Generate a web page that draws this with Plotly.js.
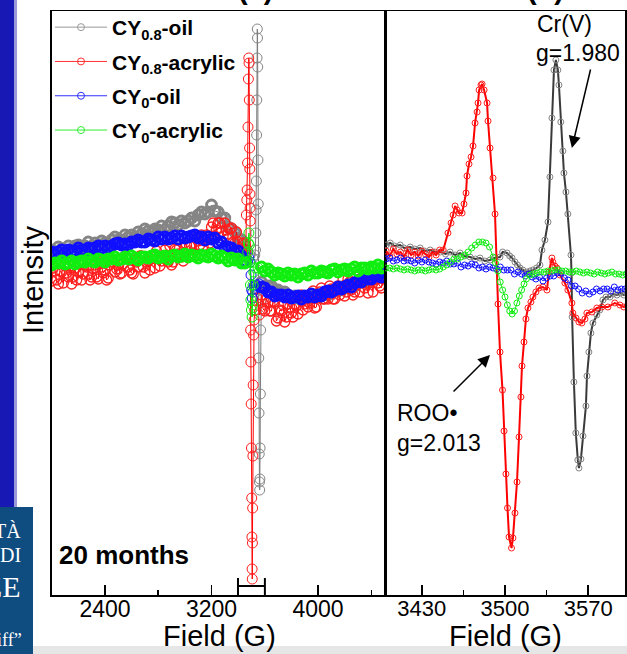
<!DOCTYPE html>
<html><head><meta charset="utf-8">
<script src="https://cdn.plot.ly/plotly-3.0.1.min.js"></script>
<style>html,body{margin:0;padding:0;background:#fff}#chart{width:627px;height:654px}</style>
</head><body><div id="chart"></div>
<script>
// ---------- Panel (a): wide scan ----------
const fieldWidePre = [2000,2025,2050,2075,2100,2125,2150,2175,2200,2225,2250,2275,2300,2325,2350,2375,2400,2425,2450,2475,2500,2525,2550,2575,2600,2625,2650,2675,2700,2725,2750,2775,2800,2825,2850,2875,2900,2925,2950,2975,3000,3025,3050,3075,3100,3125,3150,3175,3200,3225,3250,3275,3300,3325,3350,3375,3400,3425,3450];
const fieldWidePost = [3575,3600,3625,3650,3675,3700,3725,3750,3775,3800,3825,3850,3875,3900,3925,3950,3975,4000,4025,4050,4075,4100,4125,4150,4175,4200,4225,4250,4275,4300,4325,4350,4375,4400,4425,4450,4475,4500];
const fieldWidePreMid = [2012.5,2037.5,2062.5,2087.5,2112.5,2137.5,2162.5,2187.5,2212.5,2237.5,2262.5,2287.5,2312.5,2337.5,2362.5,2387.5,2412.5,2437.5,2462.5,2487.5,2512.5,2537.5,2562.5,2587.5,2612.5,2637.5,2662.5,2687.5,2712.5,2737.5,2762.5,2787.5,2812.5,2837.5,2862.5,2887.5,2912.5,2937.5,2962.5,2987.5,3012.5,3037.5,3062.5,3087.5,3112.5,3137.5,3162.5,3187.5,3212.5,3237.5,3262.5,3287.5,3312.5,3337.5,3362.5,3387.5,3412.5,3437.5];
const fieldWidePostMid = [3587.5,3612.5,3637.5,3662.5,3687.5,3712.5,3737.5,3762.5,3787.5,3812.5,3837.5,3862.5,3887.5,3912.5,3937.5,3962.5,3987.5,4012.5,4037.5,4062.5,4087.5,4112.5,4137.5,4162.5,4187.5,4212.5,4237.5,4262.5,4287.5,4312.5,4337.5,4362.5,4387.5,4412.5,4437.5,4462.5,4487.5];

const grayPre = [20,18,23,21,20,24,19,24,25,22,24,28,23,27,25,29,27,25,30,33,30,30,35,33,35,32,38,36,41,39,38,41,40,44,40,44,48,47,45,49,47,49,52,49,55,58,56,58,65,59,58,52,52,43,41,38,32,30,20];
const redPre = [-11,-1,-14,-2,4,-7,-14,2,-2,-10,7,-4,-7,5,-9,3,0,-8,8,-2,5,-3,14,3,-3,10,3,14,-3,9,14,2,13,9,20,8,5,21,16,13,27,14,24,15,29,35,29,34,43,34,47,38,47,36,42,27,28,19,26];
const redPreMid = [2,-10,-1,-13,-3,4,-7,-10,7,-4,3,-10,1,-7,8,-3,-10,5,8,1,-4,6,12,0,-4,8,14,3,8,0,14,19,4,12,10,24,8,20,15,9,25,24,17,32,25,24,35,27,47,40,47,34,40,41,28,38,19,27];
const bluePre = [18,16,18,20,17,20,19,19,22,20,19,22,21,22,24,22,24,22,24,26,27,25,26,25,28,28,30,28,28,31,30,29,33,31,33,31,32,34,31,34,32,33,34,35,32,33,30,33,31,32,27,28,23,23,22,18,19,14,9];
const greenPre = [5,7,7,9,6,7,9,6,8,9,8,11,9,8,11,10,8,11,11,13,10,11,13,11,14,12,10,13,13,12,14,15,12,13,14,11,14,15,13,14,16,13,15,14,12,15,14,13,16,14,12,14,12,9,12,10,11,7,7];

const grayPost = [-12,-16,-16,-16,-21,-20,-23,-22,-25,-28,-26,-28,-30,-27,-28,-28,-25,-27,-24,-24,-25,-21,-21,-21,-17,-18,-18,-14,-16,-13,-11,-12,-8,-9,-9,-6,-6,-7];
const redPost = [-25,-41,-33,-41,-32,-48,-41,-52,-34,-43,-34,-44,-25,-34,-37,-24,-38,-25,-18,-29,-29,-19,-29,-16,-19,-26,-9,-20,-22,-12,-8,-18,-23,-11,-7,-13,-18,-3];
const redPostMid = [-39,-29,-41,-31,-51,-40,-35,-47,-37,-47,-36,-26,-40,-29,-33,-21,-37,-22,-29,-24,-16,-29,-19,-25,-10,-22,-12,-25,-15,-22,-11,-15,-5,-22,-9,-16,-5];
const bluePost = [-17,-18,-22,-22,-26,-25,-25,-27,-25,-28,-27,-26,-29,-26,-27,-24,-27,-25,-26,-22,-21,-22,-20,-17,-19,-17,-15,-17,-13,-11,-12,-8,-9,-9,-6,-6,-7,-3];
const greenPost = [3,-1,1,-2,-5,-3,-4,-6,-3,-5,-4,-7,-4,-3,-5,-1,-3,-3,-1,-2,-3,0,1,-2,0,1,-1,1,3,-1,2,2,1,3,2,5,2,3];

const graySpikeField = [3470,3490,3510,3525,3530,3533,3535,3537,3539,3540,3542,3544,3545.5,3547,3549,3551,3553,3555,3557,3558.5,3560,3562,3563.5,3565,3567,3569,3572];
const graySpike = [20,15,12,15,20,37,60,89,135,170,212,241,232,203,110,66,-20,-88,-143,-184,-212,-220,-209,-178,-124,-60,-30];
const redSpikeField = [3458,3462,3465,3468,3471,3474,3477,3480,3482,3484,3486,3488,3489,3490,3491,3494,3496,3498,3500,3502,3503.5,3505,3506,3507.5,3509,3511,3513,3516,3520,3525,3530,3545,3560];
const redSpike = [24,55,70,80,107,143,191,212,207,170,122,101,76,62,49,-60,-92,-134,-178,-228,-267,-299,-309,-273,-238,-186,-115,-65,-50,-40,-40,-28,-45];
const blueSpikeField = [3470,3480,3490,3497,3502,3506,3510,3520,3540,3560];
const blueSpike = [8,12,8,-5,-20,-28,-22,-16,-15,-14];
const greenSpikeField = [3465,3472,3477,3481,3484,3488,3492,3496,3500,3505,3508,3512,3518,3530,3550];
const greenSpike = [8,18,27,37,25,8,-15,-30,-40,-47,-35,-15,-2,2,2];

// ---------- Panel (b): narrow scan ----------
const grayNarrowField = [3400,3403.4,3407,3411.8,3415,3420.2,3424,3428.6,3432,3437,3441,3445.6,3450,3453.8,3458,3462.2,3466,3470.6,3475,3479,3483,3487.4,3491,3495.8,3498,3501.7,3504,3505.9,3508.4,3510.5,3512.6,3515,3518.5,3521,3523.5,3526.5,3529.4,3531.1,3533.6,3536.2,3537.8,3539.5,3541.2,3542.8,3544.5,3545.4,3547,3548.7,3549.6,3551.3,3552.9,3555.5,3556,3556.5,3558,3559.6,3561.3,3562.2,3563.9,3565.6,3568.1,3569,3570.6,3572.3,3574,3577.3,3579.8,3582.4,3585,3588.3,3591,3594.2,3597,3600,3603];
const grayNarrow = [25,27,24,25,22,23,21,22,19,20,18,18,16,18,15,17,14,13,11,12,9,10,12,13,18,17,14,12,8,5,2,0,-2,-1,0,2,5,20,30,48,93,152,200,210,200,185,148,119,97,78,56,15,-3,-47,-112,-163,-190,-198,-189,-166,-136,-106,-82,-63,-53,-45,-40,-30,-27,-27,-24,-25,-23,-25,-24];
const redNarrowField = [3400,3403,3406,3409,3412,3415,3418,3421,3424,3427,3430,3433,3436,3439,3442,3445,3448,3452,3454.6,3456.3,3458,3459.7,3461.3,3463.9,3465.5,3467.2,3468,3469.7,3471.4,3473.1,3474.8,3476.5,3477.3,3478.2,3479.8,3480.7,3482.4,3484.9,3485.7,3487.4,3489.9,3491.6,3494.1,3495.8,3497.9,3499.2,3500.8,3502.1,3503.4,3505.5,3506.7,3508.4,3510.1,3511.8,3513.4,3514.3,3516,3517.6,3519.3,3521.8,3523.5,3526,3528.6,3531.9,3535.3,3537,3539.5,3540.3,3542,3543.7,3546.2,3550.4,3552.9,3556.3,3557.1,3559.7,3562.2,3564.7,3567.3,3568.9,3573.1,3577.3,3581.5,3586.6,3592.4,3596.7,3600,3603];
const redNarrow = [19,14,21,16,18,13,20,15,18,14,19,16,13,18,15,20,20,37,47,55,64,60,57,57,66,77,94,106,113,124,147,158,167,180,185,186,180,167,149,122,92,56,-34,-82,-120,-161,-204,-238,-267,-278,-268,-243,-212,-167,-127,-96,-72,-49,-38,-32,-27,-22,-18,-17,-20,-2,12,8,4,2,-5,-13,-20,-33,-43,-48,-52,-53,-49,-43,-42,-38,-37,-37,-33,-35,-37,-36];
const blueNarrowField = [3400,3403,3406,3409,3412,3415,3418,3421,3424,3427,3430,3433,3436,3439,3442,3445,3448,3451,3454,3457,3460,3463,3466,3469,3472,3475,3478,3481,3484,3487,3490,3493,3496,3499,3502,3505,3508,3511,3514,3517,3520,3523,3526,3529,3532,3535,3538,3541,3544,3547,3550,3553,3556,3559,3562,3565,3568,3571,3574,3577,3580,3583,3586,3589,3592,3595,3598,3601];
const blueNarrow = [11,12,9,10,12,9,10,9,7,10,8,10,8,7,6,8,7,9,6,6,7,3,5,4,6,5,2,3,1,3,2,1,3,0,0,0,-4,-2,-4,-6,-4,-7,-9,-7,-11,-8,-6,-6,-3,-3,-8,-10,-16,-16,-19,-23,-21,-24,-22,-19,-21,-19,-19,-21,-17,-20,-19,-19];
const greenNarrowField = [3400,3403,3406,3409,3412,3415,3418,3421,3424,3427,3430,3433,3436,3439,3442,3445,3448,3451,3454,3457,3460,3463,3466,3469,3472,3475,3478,3481,3484,3487,3490,3492,3494,3496,3498,3500,3502,3504,3506,3508,3510,3512,3514,3516,3518,3521,3524,3527,3530,3533,3536,3539,3542,3545,3548,3551,3554,3557,3560,3563,3566,3569,3572,3575,3578,3581,3584,3587,3590,3593,3596,3599,3602];
const greenNarrow = [2,2,1,2,1,0,1,0,-1,0,0,-1,0,1,0,1,3,5,8,11,11,13,15,18,22,25,28,28,27,23,13,7,-1,-12,-20,-27,-35,-41,-44,-41,-33,-26,-20,-14,-9,-5,-4,-3,-2,-2,-1,-1,0,0,-1,-1,-2,-2,-1,-2,-3,-2,-3,-4,-2,-3,-4,-3,-2,-4,-4,-5,-4];

// ---------- axes / labels ----------
const seriesNames = ['CY<sub>0.8</sub>-oil','CY<sub>0.8</sub>-acrylic','CY<sub>0</sub>-oil','CY<sub>0</sub>-acrylic'];
const wideRange = [2000, 4503];
const narrowRange = [3399, 3601];
const intensityRange = [-325, 259];
const wideTicks = [2400, 3200, 4000];
const wideMinorTicks = [2800, 4400];
const narrowTicks = [3430, 3500, 3570];
const narrowMinorTicks = [3465, 3535];

// ---------- build ----------
const W = 627, H = 654;
const px = x => x / W, py = y => 1 - y / H;
const ARIAL = 'Arial, "Liberation Sans", sans-serif';

const bandStroke = [2.8, 1.3, 2.8, 2.8];   // stroke of the dense baseline circles
const spikeStroke = 1;                     // stroke of the sparse spike circles

function merged(xa, ya, xb, yb) {
  const pts = xa.map((x, i) => [x, ya[i]]).concat(xb.map((x, i) => [x, yb[i]]));
  pts.sort((p, q) => p[0] - q[0]);
  return {x: pts.map(p => p[0]), y: pts.map(p => p[1])};
}
function wide(pre, spikeX, spikeY, post, k) {
  const s = bandStroke[k];
  return {
    x: pre.x.concat(spikeX, post.x),
    y: pre.y.concat(spikeY, post.y),
    w: pre.x.map(() => s).concat(spikeX.map(() => spikeStroke), post.x.map(() => s))
  };
}
const one = (x, y) => ({x: x, y: y});
const wideSets = [
  wide(one(fieldWidePre, grayPre), graySpikeField, graySpike, one(fieldWidePost, grayPost), 0),
  wide(merged(fieldWidePre, redPre, fieldWidePreMid, redPreMid), redSpikeField, redSpike,
       merged(fieldWidePost, redPost, fieldWidePostMid, redPostMid), 1),
  wide(one(fieldWidePre, bluePre), blueSpikeField, blueSpike, one(fieldWidePost, bluePost), 2),
  wide(one(fieldWidePre, greenPre), greenSpikeField, greenSpike, one(fieldWidePost, greenPost), 3)
];
const narrowSets = [
  {x: grayNarrowField, y: grayNarrow},
  {x: redNarrowField, y: redNarrow},
  {x: blueNarrowField, y: blueNarrow},
  {x: greenNarrowField, y: greenNarrow}
];
const lineCols = ['#7a7a7a', '#ff0000', '#0000ff', '#00ee00'];
const markCols = ['#858585', '#ff2020', '#1010ff', '#10ee10'];
const legendCols = ['#999999', '#ff3030', '#3030ff', '#30ee30'];
const narrowLineCols = ['#3a3a3a', '#ff0000', '#3030ff', '#20e020'];
const narrowLineW = [2, 2, 1, 1];

const traces = [];
wideSets.forEach((s, i) => traces.push({
  x: s.x, y: s.y, xaxis: 'x', yaxis: 'y', type: 'scatter', mode: 'lines+markers',
  name: seriesNames[i], showlegend: false,
  line: {color: lineCols[i], width: 1},
  marker: {symbol: 'circle-open', size: 10, color: markCols[i], line: {width: s.w}}
}));
narrowSets.forEach((s, i) => traces.push({
  x: s.x, y: s.y, xaxis: 'x2', yaxis: 'y2', type: 'scatter', mode: 'lines+markers',
  name: seriesNames[i], showlegend: false,
  line: {color: narrowLineCols[i], width: narrowLineW[i]},
  marker: {symbol: 'circle-open', size: 6, color: markCols[i], line: {width: 1}}
}));
// legend entries (no data of their own)
seriesNames.forEach((n, i) => traces.push({
  x: [null], y: [null], xaxis: 'x', yaxis: 'y', type: 'scatter', mode: 'lines+markers',
  name: n, legendgroup: 'g' + i, showlegend: true,
  line: {color: legendCols[i], width: 1},
  marker: {symbol: 'circle-open', size: 7, color: legendCols[i], line: {width: 1}}
}));

const axisCommon = {
  showline: true, mirror: true, linecolor: '#000', linewidth: 1.5,
  showgrid: false, zeroline: false, ticks: 'inside', ticklen: 10, tickwidth: 1.5, tickcolor: '#000',
  tickmode: 'array', automargin: false, ticklabelstandoff: -7
};
const yCommon = {
  range: intensityRange, domain: [py(595), py(11)], showline: true, mirror: true,
  linecolor: '#000', linewidth: 1.5, showgrid: false, zeroline: false,
  showticklabels: false, ticks: '', automargin: false
};

const layout = {
  width: W, height: H, margin: {l: 0, r: 0, t: 0, b: 0},
  paper_bgcolor: '#fff', plot_bgcolor: '#fff',
  font: {family: ARIAL, color: '#000'},
  showlegend: true,
  legend: {
    x: px(50), y: py(7), xanchor: 'left', yanchor: 'top', bgcolor: 'rgba(0,0,0,0)',
    font: {family: ARIAL, size: 21, weight: 'bold', color: '#000'},
    tracegroupgap: 4, itemwidth: 52
  },
  xaxis: Object.assign({}, axisCommon, {
    domain: [px(51.7), px(385)], range: wideRange, tickvals: wideTicks,
    tickfont: {family: ARIAL, size: 23, color: '#000'},
    minor: {tickmode: 'array', tickvals: wideMinorTicks, ticks: 'inside', ticklen: 5, tickwidth: 1.5, tickcolor: '#000'},
    anchor: 'y'
  }),
  xaxis2: Object.assign({}, axisCommon, {
    domain: [px(385), px(625)], range: narrowRange, tickvals: narrowTicks,
    tickfont: {family: ARIAL, size: 22, color: '#000'},
    minor: {tickmode: 'array', tickvals: narrowMinorTicks, ticks: 'inside', ticklen: 5, tickwidth: 1.5, tickcolor: '#000'},
    anchor: 'y2'
  }),
  yaxis: Object.assign({}, yCommon, {anchor: 'x'}),
  yaxis2: Object.assign({}, yCommon, {anchor: 'x2'}),
  shapes: [
    // slide decorations
    {type: 'rect', xref: 'paper', yref: 'paper', x0: 0, x1: px(14), y0: py(507), y1: 1, fillcolor: '#1818b4', line: {width: 0}, layer: 'below'},
    {type: 'rect', xref: 'paper', yref: 'paper', x0: px(14), x1: px(17), y0: py(507), y1: 1, fillcolor: '#9a9ad8', line: {width: 0}, layer: 'below'},
    {type: 'rect', xref: 'paper', yref: 'paper', x0: 0, x1: px(33), y0: 0, y1: py(507), fillcolor: '#0f4c80', line: {width: 0}, layer: 'below'},
    {type: 'rect', xref: 'paper', yref: 'paper', x0: px(33), x1: 1, y0: 0, y1: py(646), fillcolor: '#e6e6e6', line: {width: 0}, layer: 'below'},
    // zoom-range bracket
    {type: 'line', xref: 'x', yref: 'y', x0: narrowRange[0], x1: narrowRange[1], y0: -316, y1: -316, line: {color: '#000', width: 2}},
    {type: 'line', xref: 'x', yref: 'y', x0: narrowRange[0], x1: narrowRange[0], y0: -308, y1: -325, line: {color: '#000', width: 2}},
    {type: 'line', xref: 'x', yref: 'y', x0: narrowRange[1], x1: narrowRange[1], y0: -308, y1: -325, line: {color: '#000', width: 2}}
  ],
  annotations: [
    {xref: 'paper', yref: 'paper', x: px(33), y: py(280), text: 'Intensity', textangle: -90, showarrow: false, font: {size: 29, family: ARIAL}, xanchor: 'center', yanchor: 'middle'},
    {xref: 'paper', yref: 'paper', x: px(219), y: py(636), text: 'Field (G)', showarrow: false, font: {size: 29, family: ARIAL}, xanchor: 'center', yanchor: 'middle', borderpad: 0},
    {xref: 'paper', yref: 'paper', x: px(505), y: py(636), text: 'Field (G)', showarrow: false, font: {size: 29, family: ARIAL}, xanchor: 'center', yanchor: 'middle', borderpad: 0},
    {xref: 'paper', yref: 'paper', x: px(57), y: py(555), text: '20 months', showarrow: false, font: {size: 26, family: ARIAL, weight: 'bold'}, xanchor: 'left', yanchor: 'middle'},
    {xref: 'paper', yref: 'paper', x: px(255), y: 1, yshift: -7, text: '(a)', showarrow: false, font: {size: 29, family: ARIAL, weight: 'bold'}, xanchor: 'center', yanchor: 'bottom'},
    {xref: 'paper', yref: 'paper', x: px(545), y: 1, yshift: -7, text: '(b)', showarrow: false, font: {size: 29, family: ARIAL, weight: 'bold'}, xanchor: 'center', yanchor: 'bottom'},
    {xref: 'paper', yref: 'paper', x: px(564), y: py(24), text: 'Cr(V)', showarrow: false, font: {size: 23, family: ARIAL}, xanchor: 'center', yanchor: 'middle'},
    {xref: 'paper', yref: 'paper', x: px(578), y: py(53), text: 'g=1.980', showarrow: false, font: {size: 23, family: ARIAL}, xanchor: 'center', yanchor: 'middle'},
    {xref: 'paper', yref: 'paper', x: px(395), y: py(413), text: 'ROO•', showarrow: false, font: {size: 23, family: ARIAL}, xanchor: 'left', yanchor: 'middle'},
    {xref: 'paper', yref: 'paper', x: px(395), y: py(443), text: 'g=2.013', showarrow: false, font: {size: 23, family: ARIAL}, xanchor: 'left', yanchor: 'middle'},
    {xref: 'x2', yref: 'y2', x: 3556.3, y: 122, ax: 19, ay: -80, text: '', showarrow: true, arrowhead: 2, arrowsize: 1.6, arrowwidth: 1.5, arrowcolor: '#000'},
    {xref: 'x2', yref: 'y2', x: 3487.4, y: -85, ax: -38, ay: 38, text: '', showarrow: true, arrowhead: 2, arrowsize: 1.6, arrowwidth: 1.5, arrowcolor: '#000'},
    // slide logo fragments
    {xref: 'paper', yref: 'paper', x: px(23), y: py(531), text: 'TÀ', showarrow: false, font: {size: 20, family: '"Liberation Serif", serif', color: '#fff'}, xanchor: 'right', yanchor: 'middle'},
    {xref: 'paper', yref: 'paper', x: px(23), y: py(555), text: 'DI', showarrow: false, font: {size: 20, family: '"Liberation Serif", serif', color: '#fff'}, xanchor: 'right', yanchor: 'middle'},
    {xref: 'paper', yref: 'paper', x: px(23), y: py(586), text: 'ZE', showarrow: false, font: {size: 30, family: '"Liberation Serif", serif', color: '#fff'}, xanchor: 'right', yanchor: 'middle'},
    {xref: 'paper', yref: 'paper', x: px(24), y: py(640), text: 'iff”', showarrow: false, font: {size: 18, family: '"Liberation Serif", serif', color: '#fff'}, xanchor: 'right', yanchor: 'middle'}
  ]
};

Plotly.newPlot('chart', traces, layout, {displayModeBar: false, staticPlot: true});
</script></body></html>
